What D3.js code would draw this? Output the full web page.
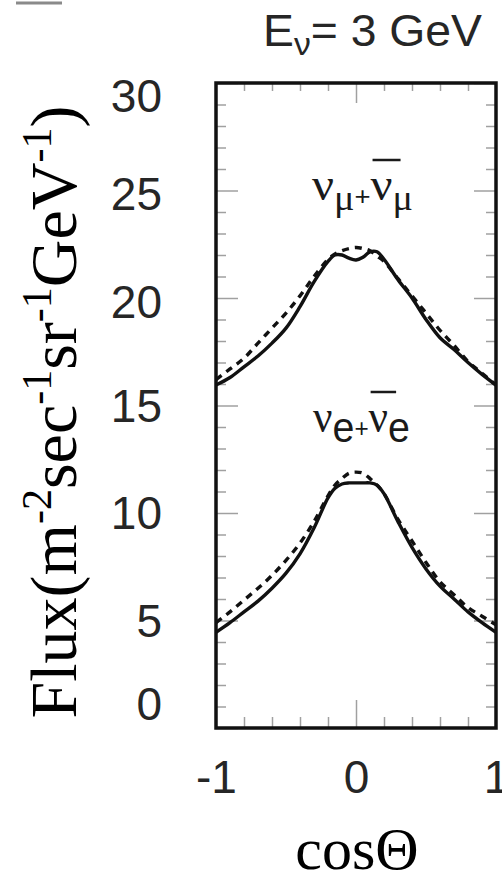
<!DOCTYPE html>
<html>
<head>
<meta charset="utf-8">
<script src="https://cdn.jsdelivr.net/npm/d3@7"></script>
<style>
  html, body { margin: 0; padding: 0; background: #fff; }
  svg { display: block; }
</style>
</head>
<body>
<svg id="chart" width="502" height="878"></svg>
<script>
// ---------------- data ----------------
const cosTheta   = [-1, -0.9, -0.8, -0.7, -0.6, -0.5, -0.4, -0.3, -0.2, -0.15, -0.1, -0.05, 0, 0.05, 0.1, 0.15, 0.2, 0.3, 0.4, 0.5, 0.6, 0.7, 0.8, 0.9, 1];
const numuSolid  = [15.95, 16.3, 16.8, 17.3, 17.9, 18.6, 19.6, 20.75, 21.7, 22.0, 22.0, 21.85, 21.77, 21.9, 22.15, 22.15, 21.8, 20.85, 20.0, 19.0, 18.15, 17.6, 17.0, 16.45, 15.95];
const numuDashed = [16.2, 16.7, 17.2, 17.9, 18.6, 19.3, 20.1, 21.0, 21.8, 22.05, 22.2, 22.3, 22.35, 22.3, 22.2, 21.95, 21.7, 20.9, 20.1, 19.3, 18.5, 17.8, 17.05, 16.5, 15.95];
const nueSolid   = [4.45, 4.9, 5.4, 5.9, 6.5, 7.2, 8.1, 9.3, 10.7, 11.15, 11.35, 11.4, 11.4, 11.4, 11.4, 11.3, 10.9, 9.6, 8.4, 7.4, 6.6, 6.0, 5.4, 4.9, 4.45];
const nueDashed  = [4.9, 5.4, 5.95, 6.5, 7.1, 7.8, 8.6, 9.6, 10.8, 11.3, 11.6, 11.85, 11.9, 11.85, 11.6, 11.3, 10.9, 9.7, 8.7, 7.7, 6.8, 6.2, 5.6, 5.2, 4.8];
const yTickLabels = [0, 5, 10, 15, 20, 25, 30];
const xTickLabels = [-1, 0, 1];
const yMinorTicks = d3.range(0, 31, 1);
const xMinorTicks = [-0.8, -0.6, -0.4, -0.2, 0.2, 0.4, 0.6, 0.8];
const xMajorTicks = [0];

// ---------------- layout ----------------
const svg = d3.select("#chart");
const x = d3.scaleLinear().domain([-1, 1]).range([216, 496]);
const y = d3.scaleLinear().domain([0, 30]).range([728, 83]);
const sans = "'Liberation Sans', Arial, Helvetica, sans-serif";
const serif = "'Liberation Serif', 'Times New Roman', serif";

// stray mark at top-left
svg.append("line").attr("x1", 16).attr("x2", 62).attr("y1", 3).attr("y2", 3)
  .attr("stroke", "#8a8a8a").attr("stroke-width", 3);

// ---------------- ticks (inside, gray) ----------------
function tickStyle(g) {
  g.select(".domain").remove();
  g.selectAll(".tick line").attr("stroke", "#a0a0a0").attr("stroke-width", 1.5);
  g.selectAll(".tick text").remove();
}
const majorY = yMinorTicks.filter(v => v % 5 === 0);
const minorY = yMinorTicks.filter(v => v % 5 !== 0);
svg.append("g").attr("transform", `translate(${x(-1)},0)`)
  .call(d3.axisLeft(y).tickValues(minorY).tickSize(-10)).call(tickStyle);
svg.append("g").attr("transform", `translate(${x(-1)},0)`)
  .call(d3.axisLeft(y).tickValues(majorY).tickSize(-22)).call(tickStyle);
svg.append("g").attr("transform", `translate(${x(1)},0)`)
  .call(d3.axisRight(y).tickValues(minorY).tickSize(-10)).call(tickStyle);
svg.append("g").attr("transform", `translate(${x(1)},0)`)
  .call(d3.axisRight(y).tickValues(majorY).tickSize(-22)).call(tickStyle);
svg.append("g").attr("transform", `translate(0,${y(0)})`)
  .call(d3.axisBottom(x).tickValues(xMinorTicks).tickSize(-11)).call(tickStyle);
svg.append("g").attr("transform", `translate(0,${y(0)})`)
  .call(d3.axisBottom(x).tickValues(xMajorTicks).tickSize(-28)).call(tickStyle);
svg.append("g").attr("transform", `translate(0,${y(30)})`)
  .call(d3.axisTop(x).tickValues(xMinorTicks).tickSize(-8)).call(tickStyle);
svg.append("g").attr("transform", `translate(0,${y(30)})`)
  .call(d3.axisTop(x).tickValues(xMajorTicks).tickSize(-20)).call(tickStyle);

// ---------------- tick labels ----------------
const yLab = svg.append("g").attr("transform", `translate(${x(-1)},0)`)
  .call(d3.axisLeft(y).tickValues(yTickLabels).tickSize(0).tickPadding(54).tickFormat(d => String(d)));
yLab.select(".domain").remove();
yLab.selectAll(".tick text")
  .attr("font-family", sans).attr("font-size", 46).attr("fill", "#262626")
  .attr("dy", d => d === 0 ? "-0.18em" : d === 30 ? "0.62em" : d >= 20 ? "0.42em" : "0.34em");

const xLab = svg.append("g").attr("transform", `translate(0,${y(0)})`)
  .call(d3.axisBottom(x).tickValues(xTickLabels).tickSize(0).tickPadding(32).tickFormat(d => String(d)));
xLab.select(".domain").remove();
xLab.selectAll(".tick text")
  .attr("font-family", sans).attr("font-size", 46).attr("fill", "#262626");

// ---------------- curves ----------------
const line = d3.line().x(d => x(d[0])).y(d => y(d[1])).curve(d3.curveCatmullRom.alpha(0.5));
const series = [
  { vals: numuDashed, dash: "7,6" },
  { vals: nueDashed,  dash: "7,6" },
  { vals: numuSolid,  dash: null },
  { vals: nueSolid,   dash: null }
];
series.forEach(s => {
  svg.append("path")
    .datum(cosTheta.map((c, i) => [c, s.vals[i]]))
    .attr("d", line)
    .attr("fill", "none")
    .attr("stroke", "#111")
    .attr("stroke-width", 3.4)
    .attr("stroke-linejoin", "round")
    .attr("stroke-dasharray", s.dash);
});

// ---------------- frame ----------------
svg.append("rect")
  .attr("x", x(-1)).attr("y", y(30))
  .attr("width", x(1) - x(-1)).attr("height", y(0) - y(30))
  .attr("fill", "none").attr("stroke", "#111").attr("stroke-width", 3.5);

// ---------------- curve labels ----------------
function nuLabel(x0, yb, flavour, flavourFont, flavourSize, width) {
  const t = svg.append("text").attr("x", x0).attr("y", yb).attr("fill", "#1a1a1a")
    .attr("textLength", width).attr("lengthAdjust", "spacingAndGlyphs");
  t.append("tspan").attr("font-family", serif).attr("font-size", 46).text("ν");
  t.append("tspan").attr("font-family", flavourFont).attr("font-size", flavourSize).attr("dy", 10).text(flavour);
  t.append("tspan").attr("font-family", sans).attr("font-size", 26).attr("dy", -5).text("+");
  t.append("tspan").attr("font-family", serif).attr("font-size", 46).attr("dy", -5).text("ν");
  t.append("tspan").attr("font-family", flavourFont).attr("font-size", flavourSize).attr("dy", 10).text(flavour);
  // overbar above the second ν
  const node = t.node();
  const idx = 1 + flavour.length + 1; // index of second ν
  const s = node.getStartPositionOfChar(idx);
  const e = node.getEndPositionOfChar(idx);
  svg.append("line").attr("x1", s.x + 2).attr("x2", e.x + 8)
    .attr("y1", yb - 40).attr("y2", yb - 40)
    .attr("stroke", "#1a1a1a").attr("stroke-width", 2.5);
  return t;
}
nuLabel(312, 200, "μ", serif, 36, 101);
nuLabel(313, 432, "e", sans, 42, 97);

// ---------------- title ----------------
const title = svg.append("text").attr("x", 263).attr("y", 46)
  .attr("font-family", sans).attr("font-size", 44).attr("fill", "#262626")
  .attr("textLength", 219).attr("lengthAdjust", "spacingAndGlyphs");
title.append("tspan").text("E");
title.append("tspan").attr("font-size", 32).attr("dy", 9).text("ν");
title.append("tspan").attr("dy", -9).text("= 3 GeV");

// ---------------- axis titles ----------------
svg.append("text")
  .attr("x", 357).attr("y", 869)
  .attr("text-anchor", "middle")
  .attr("font-family", serif).attr("font-size", 60).attr("fill", "#000")
  .text("cosΘ");

const yt = svg.append("text")
  .attr("transform", "translate(76,412) rotate(-90)")
  .attr("text-anchor", "middle")
  .attr("font-family", serif).attr("font-size", 66).attr("fill", "#000");
yt.append("tspan").text("Flux(m");
yt.append("tspan").attr("font-size", 42).attr("dy", -25).text("-2");
yt.append("tspan").attr("dy", 25).text("sec");
yt.append("tspan").attr("font-size", 42).attr("dy", -25).text("-1");
yt.append("tspan").attr("dy", 25).text("sr");
yt.append("tspan").attr("font-size", 42).attr("dy", -25).text("-1");
yt.append("tspan").attr("dy", 25).text("GeV");
yt.append("tspan").attr("font-size", 42).attr("dy", -25).text("-1");
yt.append("tspan").attr("dy", 25).text(")");
</script>
</body>
</html>
